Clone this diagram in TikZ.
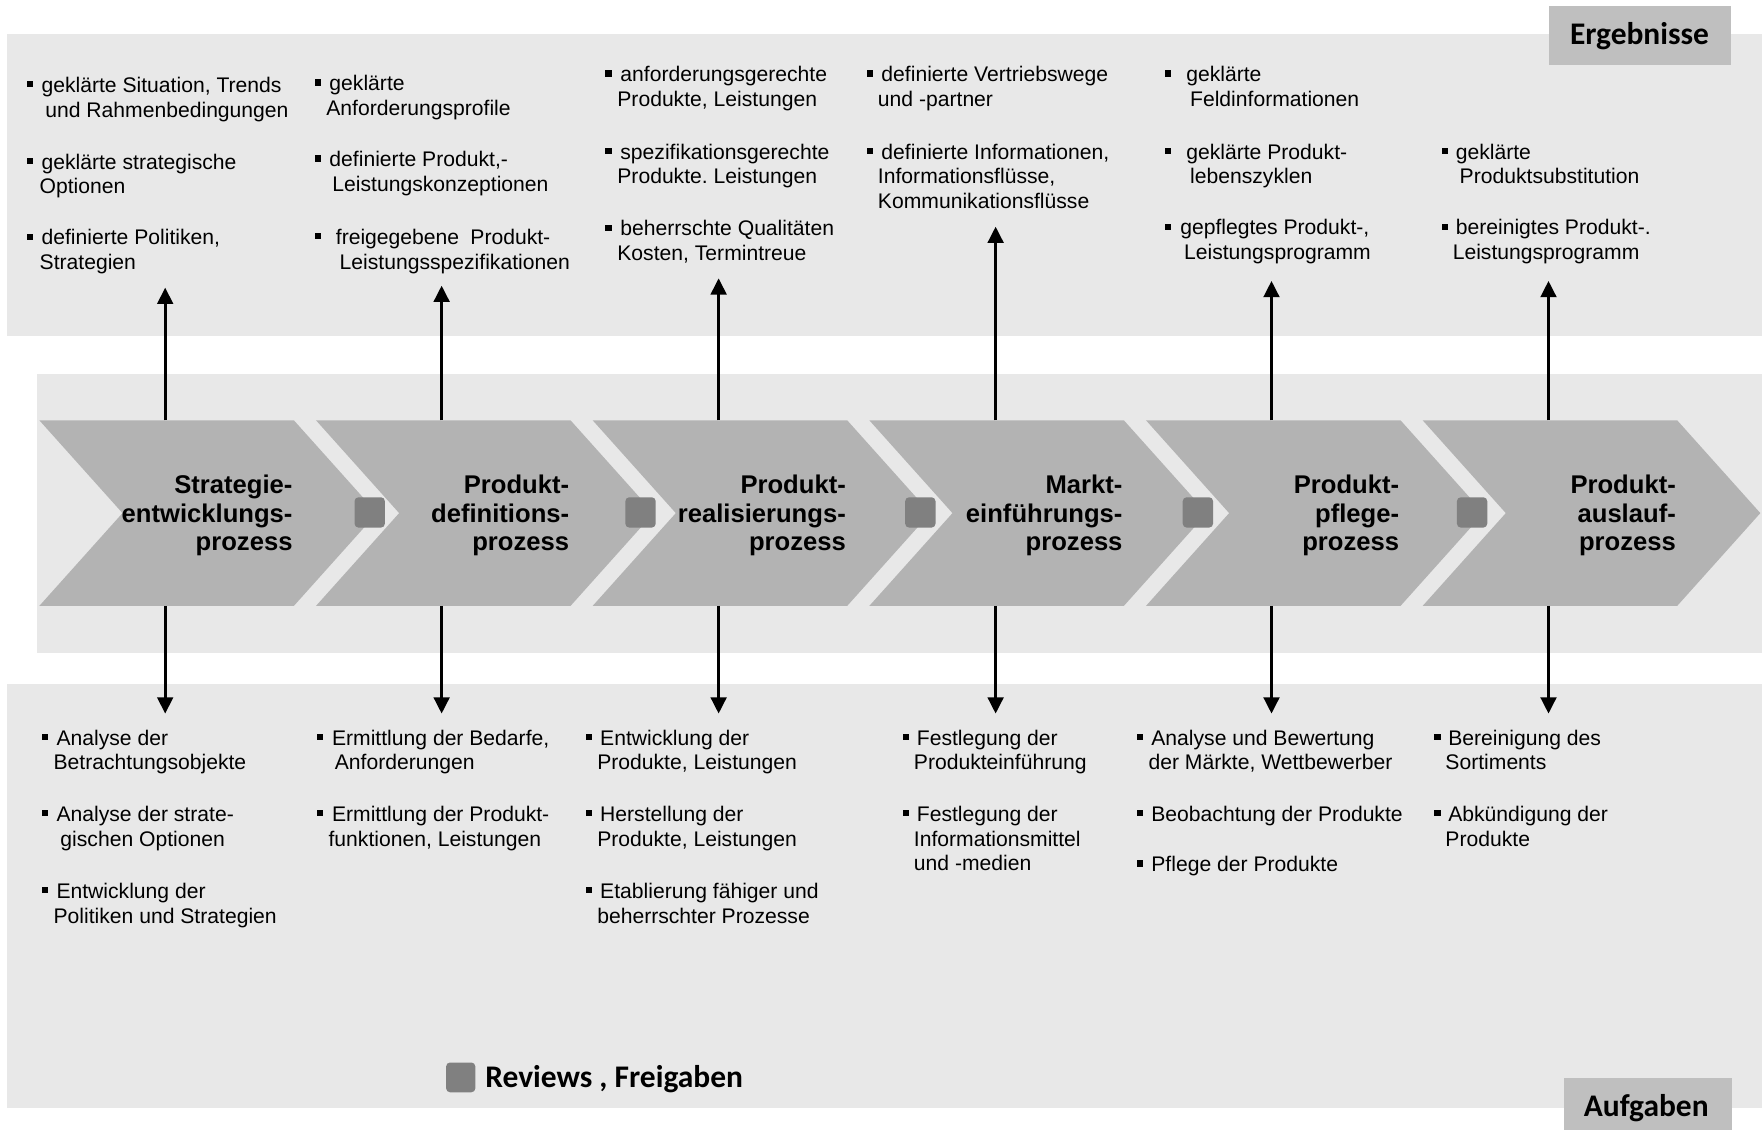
\documentclass[tikz,border=0pt]{standalone}
\usepackage{fontspec}
\setmainfont{Liberation Sans}
\newfontfamily\labfont{Carlito}
\usetikzlibrary{arrows.meta}
\frenchspacing
\definecolor{bandgray}{HTML}{E8E8E8}
\definecolor{chevgray}{HTML}{B3B3B3}
\definecolor{revgray}{HTML}{808080}
\definecolor{labgray}{HTML}{BFBFBF}
\newcommand\bu{\raisebox{4.5pt}{\rule{5.5pt}{5.5pt}}}
\newcommand\itm[1]{\vtop{\baselineskip=22pt\halign{##\hfil\cr#1\crcr}}}
\newcommand\chv[1]{\vtop{\baselineskip=25.6pt\halign{\hfil##\cr#1\crcr}}}
\tikzset{
  txt/.style={anchor=base west, inner sep=0pt, font=\fontsize{18.8}{22}\selectfont},
  chev/.style={anchor=base east, inner sep=0pt, font=\fontsize{22.8}{25.6}\selectfont\bfseries},
  lab/.style={anchor=base, inner sep=0pt, font=\labfont\bfseries\fontsize{28}{32}\selectfont},
  arr/.style={line width=2.5pt, -{Triangle[length=14.5pt,width=14pt]}},
  revbox/.style={fill=revgray, rounded corners=3.5pt}
}
\begin{document}
\begin{tikzpicture}[x=1pt,y=-1pt]
\useasboundingbox (0,0) rectangle (1568,1005);
\fill[white] (0,0) rectangle (1568,1005);
% bands
\fill[bandgray] (6.1,30.3) rectangle (1568,299);
\fill[bandgray] (32.6,332.8) rectangle (1568,581.4);
\fill[bandgray] (6.1,608.7) rectangle (1568,985.7);
% label boxes
\fill[labgray] (1378,5.3) rectangle (1540,57.7);
\node[lab] (erg) at (1459,40) {Ergebnisse};
\fill[labgray] (1392,959.3) rectangle (1541,1012);
\node[lab] (auf) at (1465,993.7) {Aufgaben};
% chevrons
\foreach \L in {35,281.2,527.4,773.6,1019.8,1266}{
  \fill[chevgray] (\L,374) -- ++(226.5,0) -- ++(74,82.6) -- ++(-74,82.6)
     -- ++(-226.5,0) -- ++(74,-82.6) -- cycle;
}
% review squares
\foreach \c in {329,570,819,1066,1310}{
  \fill[revbox] (\c-13.5,442.5) rectangle (\c+13.5,469.5);
}
% chevron texts
\node[chev] (p1) at (260.5,439) {\chv{Strategie-\cr entwicklungs-\cr prozess}};
\node[chev] (p2) at (506.7,439) {\chv{Produkt-\cr definitions-\cr prozess}};
\node[chev] (p3) at (752.9,439) {\chv{Produkt-\cr realisierungs-\cr prozess}};
\node[chev] (p4) at (999.1,439) {\chv{Markt-\cr einführungs-\cr prozess}};
\node[chev] (p5) at (1245.3,439) {\chv{Produkt-\cr pflege-\cr prozess}};
\node[chev] (p6) at (1491.5,439) {\chv{Produkt-\cr auslauf-\cr prozess}};
% arrow end points
\coordinate (p1t) at (147,374);    \coordinate (p1b) at (147,539.2);
\coordinate (p2t) at (393,374);    \coordinate (p2b) at (393,539.2);
\coordinate (p3t) at (639.5,374);  \coordinate (p3b) at (639.5,539.2);
\coordinate (p4t) at (886,374);    \coordinate (p4b) at (886,539.2);
\coordinate (p5t) at (1131.5,374); \coordinate (p5b) at (1131.5,539.2);
\coordinate (p6t) at (1378,374);   \coordinate (p6b) at (1378,539.2);
\coordinate (r1) at (147,256);
\coordinate (r2) at (393,254.2);
\coordinate (r3) at (639.5,247.7);
\coordinate (r4) at (886,201.7);
\coordinate (r5) at (1131.5,250);
\coordinate (r6) at (1378,250);
\coordinate (t1) at (147,635);
\coordinate (t2) at (393,635);
\coordinate (t3) at (639.5,635);
\coordinate (t4) at (886,635);
\coordinate (t5) at (1131.5,635);
\coordinate (t6) at (1378,635);
\foreach \i in {1,...,6}{
  \draw[arr] (p\i t) -- (r\i);
  \draw[arr] (p\i b) -- (t\i);
}
% Ergebnisse texts
\node[txt] (e11) at (23.8,82.2) {\itm{\bu\hspace{7.5pt}geklärte Situation, Trends\cr\hspace{16.4pt}und Rahmenbedingungen}};
\node[txt] (e12) at (23.8,150.6) {\itm{\bu\hspace{7.5pt}geklärte strategische\cr\hspace{11.3pt}Optionen}};
\node[txt] (e13) at (23.8,218) {\itm{\bu\hspace{7.5pt}definierte Politiken,\cr\hspace{11.3pt}Strategien}};
\node[txt] (e21) at (280,80.7) {\itm{\bu\hspace{7.5pt}geklärte\cr\hspace{10.2pt}Anforderungsprofile}};
\node[txt] (e22) at (280,148.3) {\itm{\bu\hspace{7.5pt}definierte Produkt,-\cr\hspace{15.6pt}Leistungskonzeptionen}};
\node[txt] (e23) at (280,217.4) {\itm{\bu\hspace{13.2pt}freigegebene\hspace{10pt}Produkt-\cr\hspace{22.1pt}Leistungsspezifikationen}};
\node[txt] (e31) at (538.6,72.7) {\itm{\bu\hspace{7.8pt}anforderungsgerechte\cr\hspace{10.6pt}Produkte, Leistungen}};
\node[txt] (e32) at (538.6,141.5) {\itm{\bu\hspace{7.8pt}spezifikationsgerechte\cr\hspace{10.6pt}Produkte. Leistungen}};
\node[txt] (e33) at (538.6,210) {\itm{\bu\hspace{7.8pt}beherrschte Qualitäten\cr\hspace{10.6pt}Kosten, Termintreue}};
\node[txt] (e41) at (770.9,72.7) {\itm{\bu\hspace{7.8pt}definierte Vertriebswege\cr\hspace{10.2pt}und -partner}};
\node[txt] (e42) at (770.9,141.5) {\itm{\bu\hspace{7.8pt}definierte Informationen,\cr\hspace{10.2pt}Informationsflüsse,\cr\hspace{10.2pt}Kommunikationsflüsse}};
\node[txt] (e51) at (1036.4,72.7) {\itm{\bu\hspace{13.6pt}geklärte\cr\hspace{22.5pt}Feldinformationen}};
\node[txt] (e52) at (1036.4,141.5) {\itm{\bu\hspace{13.6pt}geklärte Produkt-\cr\hspace{22.5pt}lebenszyklen}};
\node[txt] (e53) at (1036.4,209) {\itm{\bu\hspace{8.2pt}gepflegtes Produkt-,\cr\hspace{17.1pt}Leistungsprogramm}};
\node[txt] (e61) at (1282.7,141.5) {\itm{\bu\hspace{7.1pt}geklärte\cr\hspace{16.1pt}Produktsubstitution}};
\node[txt] (e62) at (1282.7,209) {\itm{\bu\hspace{7.1pt}bereinigtes Produkt-.\cr\hspace{9.9pt}Leistungsprogramm}};
% Aufgaben texts
\node[txt] (a11) at (37.3,663) {\itm{\bu\hspace{7.3pt}Analyse der\cr\hspace{10.2pt}Betrachtungsobjekte}};
\node[txt] (a12) at (37.3,731) {\itm{\bu\hspace{7.3pt}Analyse der strate-\cr\hspace{16.3pt}gischen Optionen}};
\node[txt] (a13) at (37.3,799.5) {\itm{\bu\hspace{7.3pt}Entwicklung der\cr\hspace{10.2pt}Politiken und Strategien}};
\node[txt] (a21) at (282,663) {\itm{\bu\hspace{7.8pt}Ermittlung der Bedarfe,\cr\hspace{15.8pt}Anforderungen}};
\node[txt] (a22) at (282,731) {\itm{\bu\hspace{7.8pt}Ermittlung der Produkt-\cr\hspace{10.2pt}funktionen, Leistungen}};
\node[txt] (a31) at (521,663) {\itm{\bu\hspace{7.4pt}Entwicklung der\cr\hspace{10.3pt}Produkte, Leistungen}};
\node[txt] (a32) at (521,731) {\itm{\bu\hspace{7.4pt}Herstellung der\cr\hspace{10.3pt}Produkte, Leistungen}};
\node[txt] (a33) at (521,799.5) {\itm{\bu\hspace{7.4pt}Etablierung fähiger und\cr\hspace{10.3pt}beherrschter Prozesse}};
\node[txt] (a41) at (803.2,663) {\itm{\bu\hspace{7pt}Festlegung der\cr\hspace{9.9pt}Produkteinführung}};
\node[txt] (a42) at (803.2,731) {\itm{\bu\hspace{7pt}Festlegung der\cr\hspace{9.9pt}Informationsmittel\cr\hspace{9.9pt}und -medien}};
\node[txt] (a51) at (1011.8,663) {\itm{\bu\hspace{7.1pt}Analyse und Bewertung\cr\hspace{10.1pt}der Märkte, Wettbewerber}};
\node[txt] (a52) at (1011.8,731) {\itm{\bu\hspace{7.1pt}Beobachtung der Produkte}};
\node[txt] (a53) at (1011.8,775.7) {\itm{\bu\hspace{7.1pt}Pflege der Produkte}};
\node[txt] (a61) at (1276.2,663) {\itm{\bu\hspace{6.9pt}Bereinigung des\cr\hspace{9.9pt}Sortiments}};
\node[txt] (a62) at (1276.2,731) {\itm{\bu\hspace{6.9pt}Abkündigung der\cr\hspace{9.9pt}Produkte}};
% legend
\fill[revbox] (397,945.5) rectangle (423,972);
\node[lab, anchor=base west] (leg) at (431.7,967.5) {Reviews , Freigaben};
\end{tikzpicture}
\end{document}
